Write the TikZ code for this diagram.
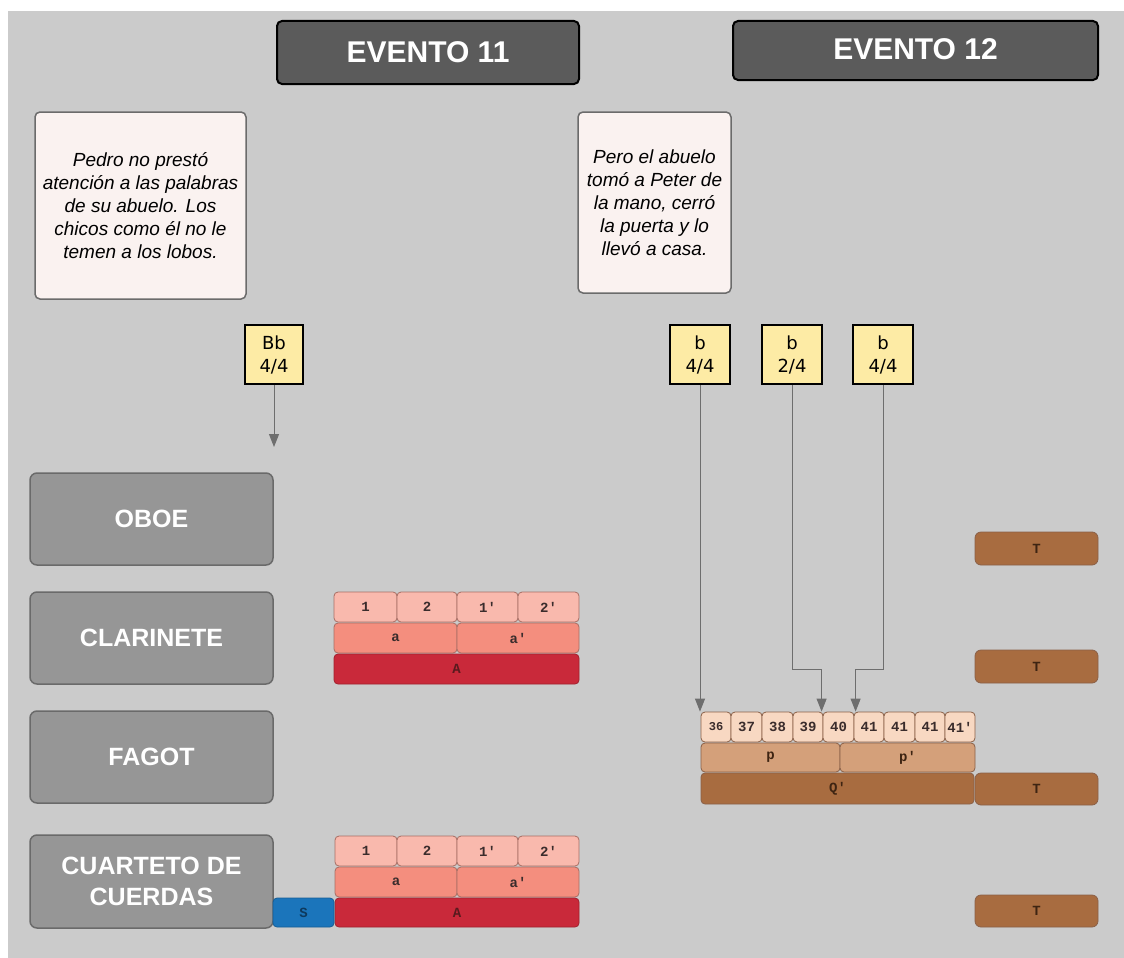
\documentclass[tikz,border=0pt]{standalone}
\usepackage{fontspec}
\setmainfont{Liberation Sans}
\setmonofont{Liberation Mono}
\newfontfamily\keyfont{DejaVu Sans}
\usetikzlibrary{arrows.meta,calc}
\definecolor{bg}{HTML}{CBCBCB}
\definecolor{evtfill}{HTML}{5B5B5B}
\definecolor{notefill}{HTML}{FAF2F0}
\definecolor{notedraw}{HTML}{6B6B6B}
\definecolor{keyfill}{HTML}{FDEBA5}
\definecolor{instfill}{HTML}{969696}
\definecolor{instdraw}{HTML}{6A6A6A}
\definecolor{salmonL}{HTML}{F9B9AD}
\definecolor{salmonM}{HTML}{F48E7E}
\definecolor{redA}{HTML}{C9293A}
\definecolor{salmondraw}{HTML}{A86E64}
\definecolor{peachL}{HTML}{F8D8C2}
\definecolor{peachM}{HTML}{D4A07A}
\definecolor{brownQ}{HTML}{A86C40}
\definecolor{browndraw}{HTML}{8A6048}
\definecolor{blueS}{HTML}{1B75BB}
\definecolor{conncol}{HTML}{6E6E6E}
\definecolor{bartext}{HTML}{3A2C2C}
\definecolor{redtext}{HTML}{5A1A1E}
\definecolor{browntext}{HTML}{3E2412}
\definecolor{bluetext}{HTML}{0E3A5E}
\newcommand\rbox[7]{\node[#6,minimum width={(#4-#2)*1pt},minimum height={(#5-#3)*1pt}] (#1) at ({(#2+#4)/2},{(#3+#5)/2}) {#7};}
\newcommand\q{\textquotesingle}
\begin{document}
\begin{tikzpicture}[x=1pt,y=-1pt,
  box/.style={rectangle,rounded corners=5pt,inner sep=0pt,anchor=center},
  evt/.style={box,fill=evtfill,draw=black,line width=2pt,text=white,font=\bfseries\fontsize{30}{34}\selectfont},
  note/.style={box,fill=notefill,draw=notedraw,line width=1.5pt,align=center,font=\itshape\fontsize{19}{23}\selectfont},
  keybox/.style={box,rounded corners=0pt,fill=keyfill,draw=black,line width=1.5pt,align=center,font=\keyfont\fontsize{18}{23}\selectfont},
  inst/.style={box,rounded corners=7pt,fill=instfill,draw=instdraw,line width=1.5pt,text=white,align=center,font=\bfseries\fontsize{25}{31}\selectfont},
  bar/.style={box,rounded corners=4pt,line width=0.8pt,font=\ttfamily\bfseries\fontsize{14}{16}\selectfont},
  sL/.style={bar,fill=salmonL,draw=salmondraw,text=bartext},
  sM/.style={bar,fill=salmonM,draw=salmondraw,text=bartext},
  sA/.style={bar,fill=redA,draw=redA!80!black,text=redtext},
  pL/.style={bar,fill=peachL,draw=browndraw,text=bartext},
  pM/.style={bar,fill=peachM,draw=browndraw,text=browntext},
  pQ/.style={bar,fill=brownQ,draw=browndraw,text=browntext},
  tbox/.style={bar,rounded corners=6pt,fill=brownQ,draw=browndraw,text=browntext},
  sbox/.style={bar,fill=blueS,draw=blueS!80!black,text=bluetext},
  conn/.style={draw=conncol,line width=1pt,-{Triangle[length=13pt,width=10pt]}}
]
\useasboundingbox (0,0) rectangle (1124,958);
\fill[white] (0,0) rectangle (1124,958);
\fill[bg] (8,11) rectangle (1124,958);

% events
\rbox{e11}{277}{21}{579}{84}{evt}{EVENTO 11}
\rbox{e12}{733}{21}{1098}{80}{evt}{\raisebox{3pt}{EVENTO 12}}

% notes
\rbox{n1}{35}{112}{246}{299}{note}{Pedro no prestó\\atención a las palabras\\de su abuelo. Los\\chicos como él no le\\temen a los lobos.}
\rbox{n2}{578}{112}{731}{293}{note}{Pero el abuelo\\tomó a Peter de\\la mano, cerró\\la puerta y lo\\llevó a casa.}

% keys
\rbox{k1}{245}{325}{303}{384}{keybox}{Bb\\4/4}
\rbox{k2}{670}{325}{730}{384}{keybox}{b\\4/4}
\rbox{k3}{762}{325}{822}{384}{keybox}{b\\2/4}
\rbox{k4}{853}{325}{913}{384}{keybox}{b\\4/4}

% instruments
\rbox{oboe}{30}{473}{273}{565}{inst}{OBOE}
\rbox{clar}{30}{592}{273}{684}{inst}{CLARINETE}
\rbox{fag}{30}{711}{273}{803}{inst}{FAGOT}
\rbox{cuar}{30}{835}{273}{928}{inst}{CUARTETO DE\\CUERDAS}

% clarinete bars
\rbox{c1}{334}{592}{397}{622}{sL}{1}
\rbox{c2}{397}{592}{457}{622}{sL}{2}
\rbox{c3}{457}{592}{518}{622}{sL}{1\q}
\rbox{c4}{518}{592}{579}{622}{sL}{2\q}
\rbox{ca}{334}{623}{457}{653}{sM}{a}
\rbox{cb}{457}{623}{579}{653}{sM}{a\q}
\rbox{cA}{334}{654}{579}{684}{sA}{A}

% cuarteto bars
\rbox{q1}{335}{836}{397}{866}{sL}{1}
\rbox{q2}{397}{836}{457}{866}{sL}{2}
\rbox{q3}{457}{836}{518}{866}{sL}{1\q}
\rbox{q4}{518}{836}{579}{866}{sL}{2\q}
\rbox{qa}{335}{867}{457}{897}{sM}{a}
\rbox{qb}{457}{867}{579}{897}{sM}{a\q}
\rbox{qA}{335}{898}{579}{927}{sA}{A}
\rbox{s}{273}{898}{334}{927}{sbox}{S}

% fagot bars
\rbox{f36}{701}{712}{731}{742}{pL,font=\ttfamily\bfseries\fontsize{12}{14}\selectfont}{36}
\rbox{f37}{731}{712}{762}{742}{pL}{37}
\rbox{f38}{762}{712}{793}{742}{pL}{38}
\rbox{f39}{793}{712}{823}{742}{pL}{39}
\rbox{f40}{823}{712}{854}{742}{pL}{40}
\rbox{f41a}{854}{712}{884}{742}{pL}{41}
\rbox{f41b}{884}{712}{915}{742}{pL}{41}
\rbox{f41c}{915}{712}{945}{742}{pL}{41}
\rbox{f41d}{945}{712}{975}{742}{pL}{41\q}
\rbox{fp}{701}{743}{840}{772}{pM}{p}
\rbox{fpp}{840}{743}{975}{772}{pM}{p\q}
\rbox{fQ}{701}{773}{974}{804}{pQ}{Q\q}

% T boxes
\rbox{t1}{975}{532}{1098}{565}{tbox}{T}
\rbox{t2}{975}{650}{1098}{683}{tbox}{T}
\rbox{t3}{975}{773}{1098}{805}{tbox}{T}
\rbox{t4}{975}{895}{1098}{927}{tbox}{T}

% connectors
\coordinate (k1end) at (274,447);
\draw[conn] (k1.south) -- (k1end);
\draw[conn] (k2.south) -- (k2.south |- f36.north);
\draw[conn] (k3.south) |- ($(f40.north west)+(-1,-42)$) -- ($(f40.north west)+(-1,0)$);
\draw[conn] (k4.south) |- ($(f41a.north west)+(2,-42)$) -- ($(f41a.north west)+(2,0)$);
\end{tikzpicture}
\end{document}
